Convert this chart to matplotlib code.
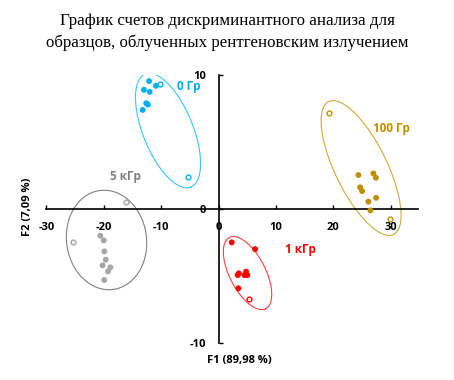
import matplotlib
matplotlib.use("Agg")
import matplotlib.pyplot as plt
import numpy as np

# group names and colours
groups = ["0 Гр", "100 Гр", "5 кГр", "1 кГр"]
point_colors = ["#00B0F0", "#BF9000", "#A6A6A6", "#FF0000"]
text_colors = ["#00B0F0", "#BF9000", "#7F7F7F", "#FF0000"]
ellipse_colors = ["#3CC4F2", "#CFA93A", "#808080", "#FF4040"]

# filled points (training samples)
x_filled = [
    [-12.1, -10.9, -13.0, -12.0, -12.6, -12.3, -13.2],
    [24.36, 26.97, 27.4, 24.65, 25.0, 27.44, 26.1, 26.45],
    [-20.6, -20.0, -19.9, -19.65, -20.2, -18.85, -19.25, -19.9],
    [2.3, 6.36, 3.34, 3.52, 4.79, 5.0, 4.5, 3.45],
]
y_filled = [
    [9.55, 9.2, 8.9, 8.75, 7.9, 7.8, 7.4],
    [2.54, 2.66, 2.34, 1.62, 1.34, 0.84, 0.55, -0.1],
    [-1.99, -2.34, -3.16, -3.78, -4.2, -4.35, -4.65, -5.3],
    [-2.49, -2.99, -4.93, -4.8, -4.68, -4.93, -4.93, -5.92],
]

# hollow points
x_hollow = [[-10.19, -5.3], [19.2, 29.8], [-16.2, -25.3], [5.31]]
y_hollow = [[9.35, 2.4], [7.16, -0.77], [0.52, -2.49], [-6.72]]

# confidence ellipses: centre, semi-major and semi-minor vectors (data units)
ell_center = [(-8.8, 5.86), (24.83, 3.06), (-19.51, -2.31), (5.05, -4.78)]
ell_major = [(3.98, -4.22), (5.65, -4.96), (1.21, -3.69), (3.16, -2.66)]
ell_minor = [(4.04, 0.70), (4.07, 0.85), (6.90, 0.42), (2.79, 0.61)]

# group label positions
label_x = [-5.26, 30.1, -16.24, 14.2]
label_y = [9.13, 6.02, 2.46, -3.0]

xticks = [-30, -20, -10, 0, 10, 20, 30]
yticks = [-10, 0, 10]

plt.rcParams["font.family"] = ["Open Sans", "DejaVu Sans"]

fig = plt.figure(figsize=(4.54, 3.8), dpi=100)
ax = fig.add_axes([0.102, 0.0974, 0.822, 0.705])

t = np.linspace(0, 2 * np.pi, 300)
for i in range(len(groups)):
    cx, cy = ell_center[i]
    ux, uy = ell_major[i]
    vx, vy = ell_minor[i]
    ax.plot(cx + ux * np.cos(t) + vx * np.sin(t),
            cy + uy * np.cos(t) + vy * np.sin(t),
            color=ellipse_colors[i], lw=0.8, zorder=2)
    ax.scatter(x_filled[i], y_filled[i], s=18, color=point_colors[i],
               edgecolors="none", zorder=3)
    ax.scatter(x_hollow[i], y_hollow[i], s=12, facecolors="white",
               edgecolors=point_colors[i], linewidths=1.0, zorder=3)
    ax.text(label_x[i], label_y[i], groups[i], color=text_colors[i],
            fontsize=8.5, fontweight="bold", ha="center", va="center")

ax.set_xlim(-30, 35)
ax.set_ylim(-10, 10)
ax.spines["top"].set_visible(False)
ax.spines["right"].set_visible(False)
ax.spines["left"].set_position(("data", 0))
ax.spines["bottom"].set_position(("data", 0))
ax.spines["bottom"].set_bounds(-30, 34.8)
ax.spines["left"].set_bounds(-10, 10)
for s in ["left", "bottom"]:
    ax.spines[s].set_linewidth(1.2)

ax.set_xticks(xticks)
ax.set_yticks(yticks)
ax.set_xticklabels([str(v) for v in xticks])
ax.set_yticklabels([str(v) for v in yticks])
ax.tick_params(direction="in", length=3, width=1.0, pad=9,
               labelsize=8, colors="black")
for lab in ax.get_xticklabels() + ax.get_yticklabels():
    lab.set_fontweight("bold")

fig.text(0.5276, 0.0526, "F1 (89,98 %)", ha="center", va="center",
         fontsize=8, fontweight="bold")
fig.text(0.060, 0.455, "F2 (7,09 %)", ha="center", va="center",
         rotation=90, fontsize=8, fontweight="bold")
fig.text(0.5, 1 - 32 / 380,
         "График счетов дискриминантного анализа для\n"
         "образцов, облученных рентгеновским излучением",
         ha="center", va="center", fontsize=12.2, linespacing=1.45,
         family=["Liberation Serif", "DejaVu Serif"])

fig.savefig("out.png", dpi=100)
